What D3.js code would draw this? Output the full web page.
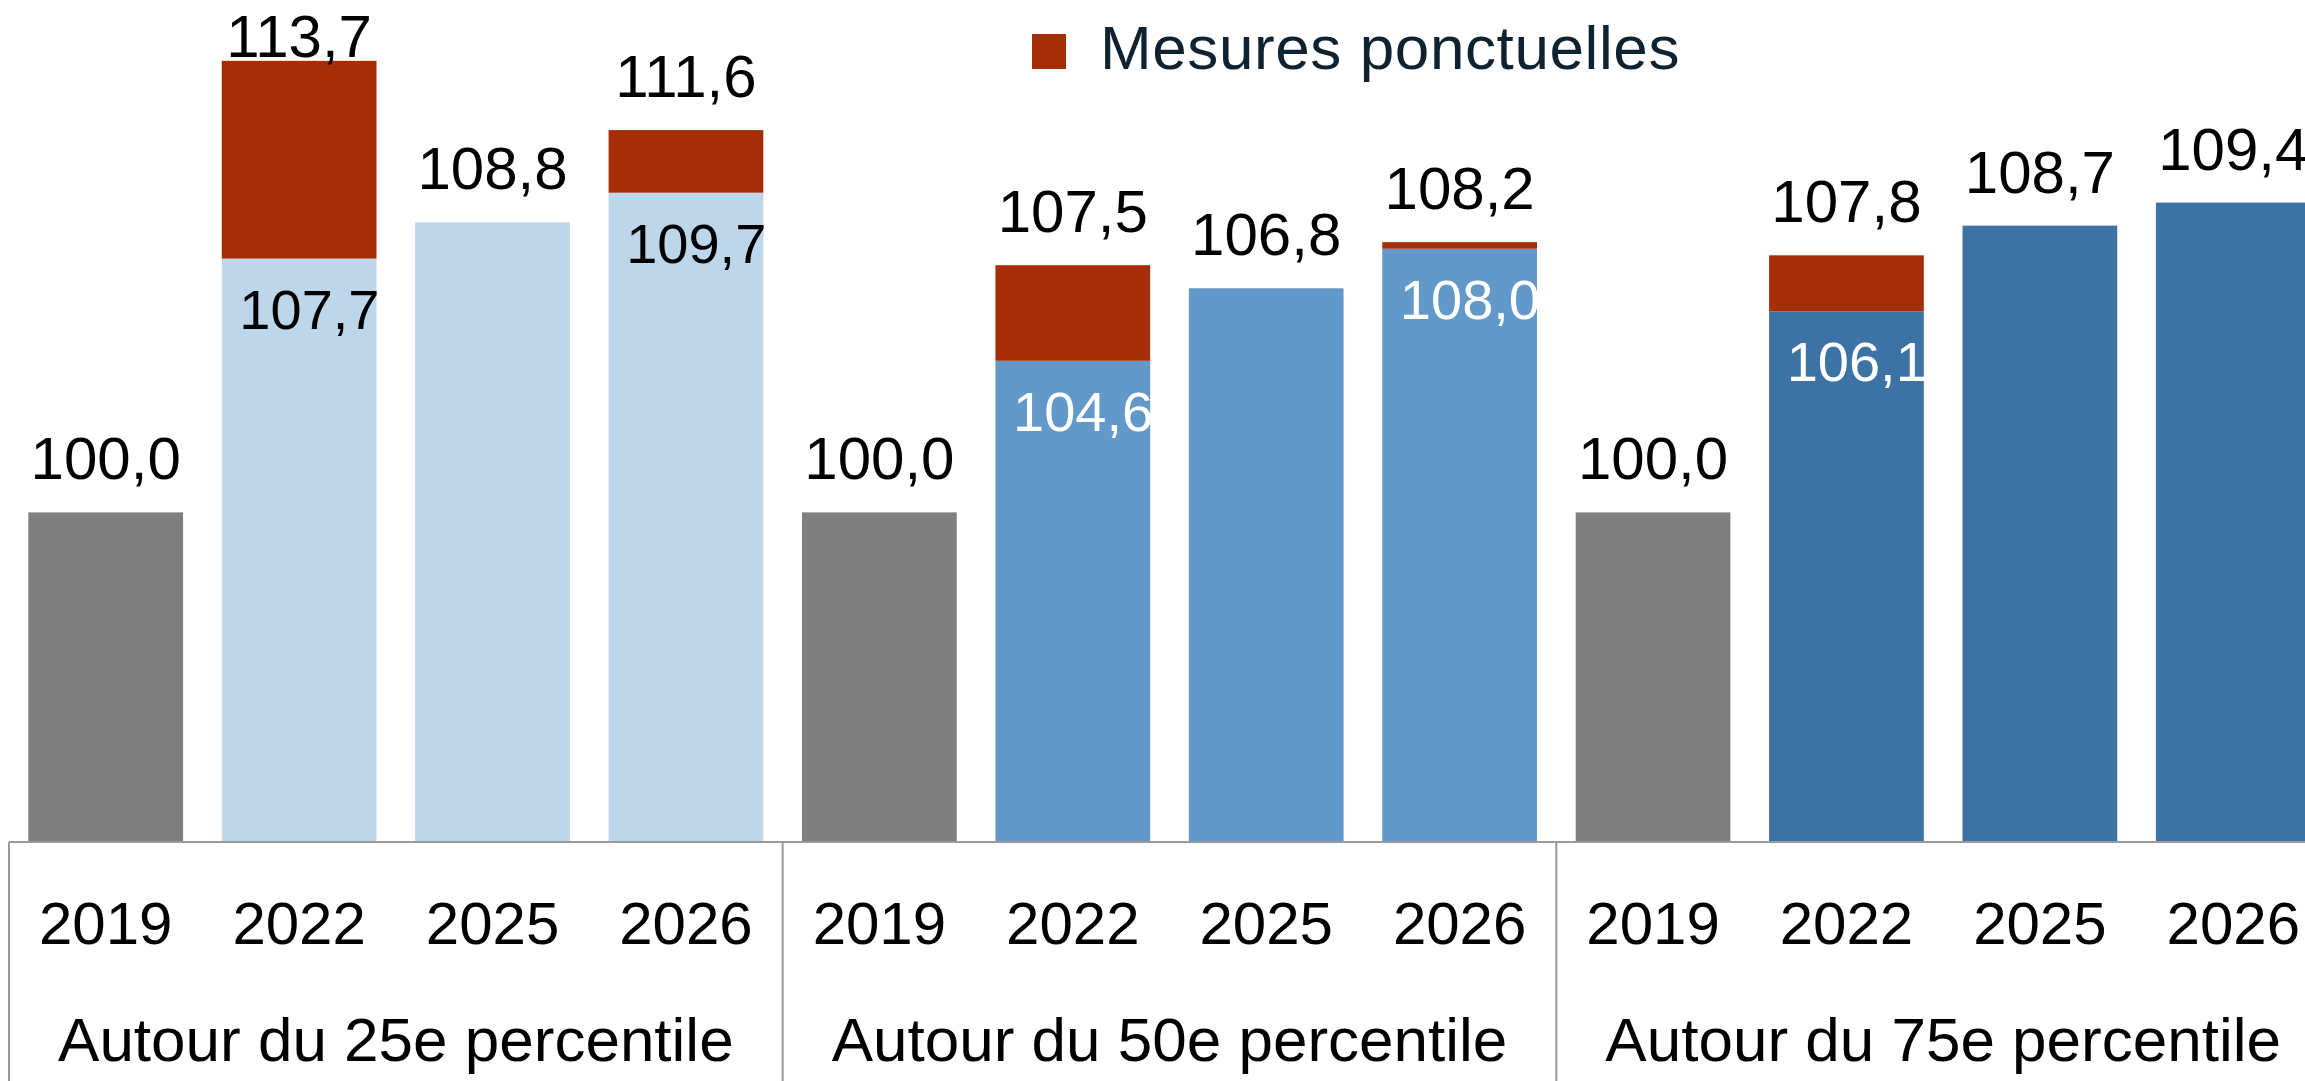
<!DOCTYPE html>
<html>
<head>
<meta charset="utf-8">
<script src="https://cdn.jsdelivr.net/npm/d3@7"></script>
<style>
  body { margin: 0; background: #fff; }
  svg { display: block; font-family: 'Liberation Sans', Arial, sans-serif; }
</style>
</head>
<body>
<div id="chart"></div>
<script>
const groups = ['Autour du 25e percentile', 'Autour du 50e percentile', 'Autour du 75e percentile'];
const years = ['2019', '2022', '2025', '2026'];
// valeur hors mesures ponctuelles
const baseValues = [
  [100.0, 107.7, 108.8, 109.7],
  [100.0, 104.6, 106.8, 108.0],
  [100.0, 106.1, 108.7, 109.4],
];
// valeur totale (avec mesures ponctuelles)
const totalValues = [
  [100.0, 113.7, 108.8, 111.6],
  [100.0, 107.5, 106.8, 108.2],
  [100.0, 107.8, 108.7, 109.4],
];
const legendLabel = 'Mesures ponctuelles';

const width = 2305;
const height = 1081;
const baseY = 842;

const groupColors = ['#BDD6EA', '#6399C8', '#3D72A4'];
const refColor = '#7F7F7F';
const redColor = '#A52D08';
const innerTextColors = ['#000', '#fff', '#fff'];

const fmt = v => d3.format('.1f')(v).replace('.', ',');

const svg = d3.select('#chart')
  .append('svg')
    .attr('width', width)
    .attr('height', height);

const x0 = d3.scaleBand()
  .domain(groups)
  .range([9, 2330])
  .padding(0);

const x1 = d3.scaleBand()
  .domain(years)
  .range([0, x0.bandwidth()])
  .paddingInner(0.2)
  .paddingOuter(0.1);

const y = d3.scaleLinear()
  .domain([90, 115])
  .range([baseY, 18]);

const rows = [];
groups.forEach((g, gi) => {
  years.forEach((yr, yi) => {
    rows.push({
      group: g, gi, year: yr,
      base: baseValues[gi][yi],
      total: totalValues[gi][yi],
    });
  });
});

const bars = svg.selectAll('.bar')
  .data(rows)
  .enter().append('g')
    .attr('class', 'bar')
    .attr('transform', d => `translate(${x0(d.group) + x1(d.year)},0)`);

bars.append('rect')
  .attr('y', d => y(d.base))
  .attr('width', x1.bandwidth())
  .attr('height', d => baseY - y(d.base))
  .attr('fill', d => d.year === '2019' ? refColor : groupColors[d.gi]);

bars.filter(d => d.total > d.base)
  .append('rect')
    .attr('y', d => y(d.total))
    .attr('width', x1.bandwidth())
    .attr('height', d => y(d.base) - y(d.total))
    .attr('fill', redColor);

// étiquettes au-dessus
bars.append('text')
  .attr('x', x1.bandwidth() / 2)
  .attr('y', d => Math.max(y(d.total) - 33, 57))
  .attr('text-anchor', 'middle')
  .attr('font-size', 60)
  .attr('fill', '#000')
  .text(d => fmt(d.total));

// étiquettes dans la barre (hors mesures ponctuelles)
bars.filter(d => d.total > d.base)
  .append('text')
    .attr('x', x1.bandwidth() + 3)
    .attr('y', d => y(d.base) + 70)
    .attr('text-anchor', 'end')
    .attr('font-size', 56)
    .attr('fill', d => innerTextColors[d.gi])
    .text(d => fmt(d.base));

// axe
const axis = svg.append('g');
axis.append('line')
  .attr('x1', x0.range()[0])
  .attr('x2', x0.range()[1])
  .attr('y1', baseY)
  .attr('y2', baseY)
  .attr('stroke', '#9A9A9A')
  .attr('stroke-width', 2);

axis.selectAll('.sep')
  .data(groups.map(g => x0(g)).concat([x0.range()[1]]))
  .enter().append('line')
    .attr('x1', d => d)
    .attr('x2', d => d)
    .attr('y1', baseY)
    .attr('y2', height)
    .attr('stroke', '#9A9A9A')
    .attr('stroke-width', 2);

axis.selectAll('.year')
  .data(rows)
  .enter().append('text')
    .attr('x', d => x0(d.group) + x1(d.year) + x1.bandwidth() / 2)
    .attr('y', 944)
    .attr('text-anchor', 'middle')
    .attr('font-size', 60)
    .attr('fill', '#000')
    .text(d => d.year);

axis.selectAll('.grp')
  .data(groups)
  .enter().append('text')
    .attr('x', d => x0(d) + x0.bandwidth() / 2)
    .attr('y', 1061)
    .attr('text-anchor', 'middle')
    .attr('font-size', 62)
    .attr('fill', '#000')
    .text(d => d);

// légende
const legend = svg.append('g')
  .attr('transform', 'translate(1032,34)');
legend.append('rect')
  .attr('width', 34)
  .attr('height', 35)
  .attr('fill', redColor);
legend.append('text')
  .attr('x', 68)
  .attr('y', 35)
  .attr('font-size', 62)
  .attr('letter-spacing', 0.6)
  .attr('fill', '#0E2230')
  .text(legendLabel);
</script>
</body>
</html>
